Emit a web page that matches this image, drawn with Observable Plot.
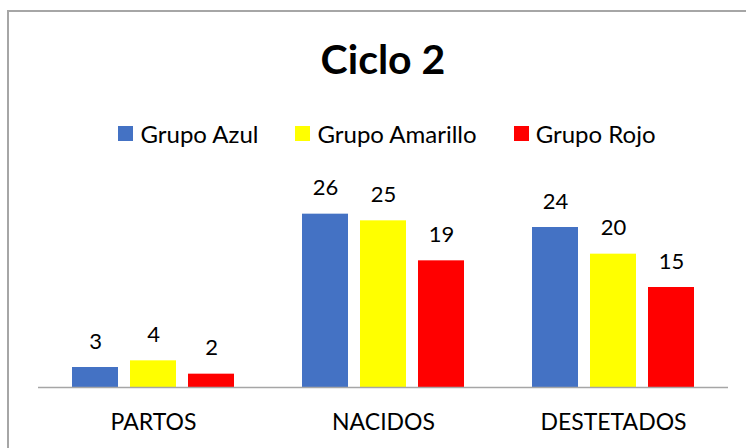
<!DOCTYPE html>
<html>
<head>
<meta charset="utf-8">
<script src="https://cdn.jsdelivr.net/npm/d3@7"></script>
<script src="https://cdn.jsdelivr.net/npm/@observablehq/plot@0.6"></script>
<style>
  html, body { margin: 0; padding: 0; background: #fff; }
  #wrap { position: relative; width: 746px; height: 448px; overflow: hidden; font-family: Lato, "Open Sans", sans-serif; }
  #frame { position: absolute; left: 7px; top: 10px; width: 760px; height: 460px; border-left: 2px solid #a6a6a6; border-top: 2px solid #a6a6a6; box-sizing: border-box; }
  #title { position: absolute; left: 7px; width: 752px; top: 31px; text-align: center; font-weight: 700; font-size: 41px; line-height: 56px; color: #000; }
  #legend { position: absolute; left: 7px; width: 760px; top: 118px; height: 30px; display: flex; justify-content: center; align-items: center; gap: 37px; font-size: 24px; color: #000; }
  .item { display: flex; align-items: center; gap: 7px; }
  .sw { width: 15px; height: 15px; display: inline-block; }
  #chart { position: absolute; left: 0; top: 161px; }
</style>
</head>
<body>
<div id="wrap">
  <div id="frame"></div>
  <div id="title">Ciclo 2</div>
  <div id="legend"></div>
  <div id="chart"></div>
</div>
<script>
const categories = ["PARTOS", "NACIDOS", "DESTETADOS"];
const groups = ["Grupo Azul", "Grupo Amarillo", "Grupo Rojo"];
const azul = [3, 26, 24];
const amarillo = [4, 25, 20];
const rojo = [2, 19, 15];
const colors = ["#4472C4", "#FFFF00", "#FF0000"];

const series = [azul, amarillo, rojo];
const data = [];
categories.forEach((c, i) => {
  groups.forEach((g, j) => data.push({category: c, group: g, value: series[j][i]}));
});

const legend = document.getElementById("legend");
groups.forEach((g, j) => {
  const it = document.createElement("div");
  it.className = "item";
  const sw = document.createElement("span");
  sw.className = "sw";
  sw.style.background = colors[j];
  const t = document.createElement("span");
  t.textContent = g;
  it.appendChild(sw); it.appendChild(t);
  legend.appendChild(it);
});

const chart = Plot.plot({
  width: 746,
  height: 287,
  marginLeft: 37,
  marginRight: 18,
  marginTop: 26,
  marginBottom: 61,
  style: {fontFamily: "Lato, 'Open Sans', sans-serif", fontSize: "23px", color: "#000", background: "transparent"},
  fx: {domain: categories, paddingInner: 0, paddingOuter: 0, label: null, tickSize: 0, tickPadding: 26},
  x: {domain: groups, paddingInner: 0.207, paddingOuter: 0.586, axis: null},
  y: {domain: [0, 30], axis: null},
  color: {domain: groups, range: colors},
  marks: [
    Plot.barY(data, {fx: "category", x: "group", y: "value", fill: "group"}),
    Plot.ruleY([0], {stroke: "#a6a6a6", strokeWidth: 1.5}),
    Plot.text(data, {fx: "category", x: "group", y: "value", text: d => String(d.value), dy: -26, fontSize: 22, fill: "#000"})
  ]
});
document.getElementById("chart").appendChild(chart);
</script>
</body>
</html>
